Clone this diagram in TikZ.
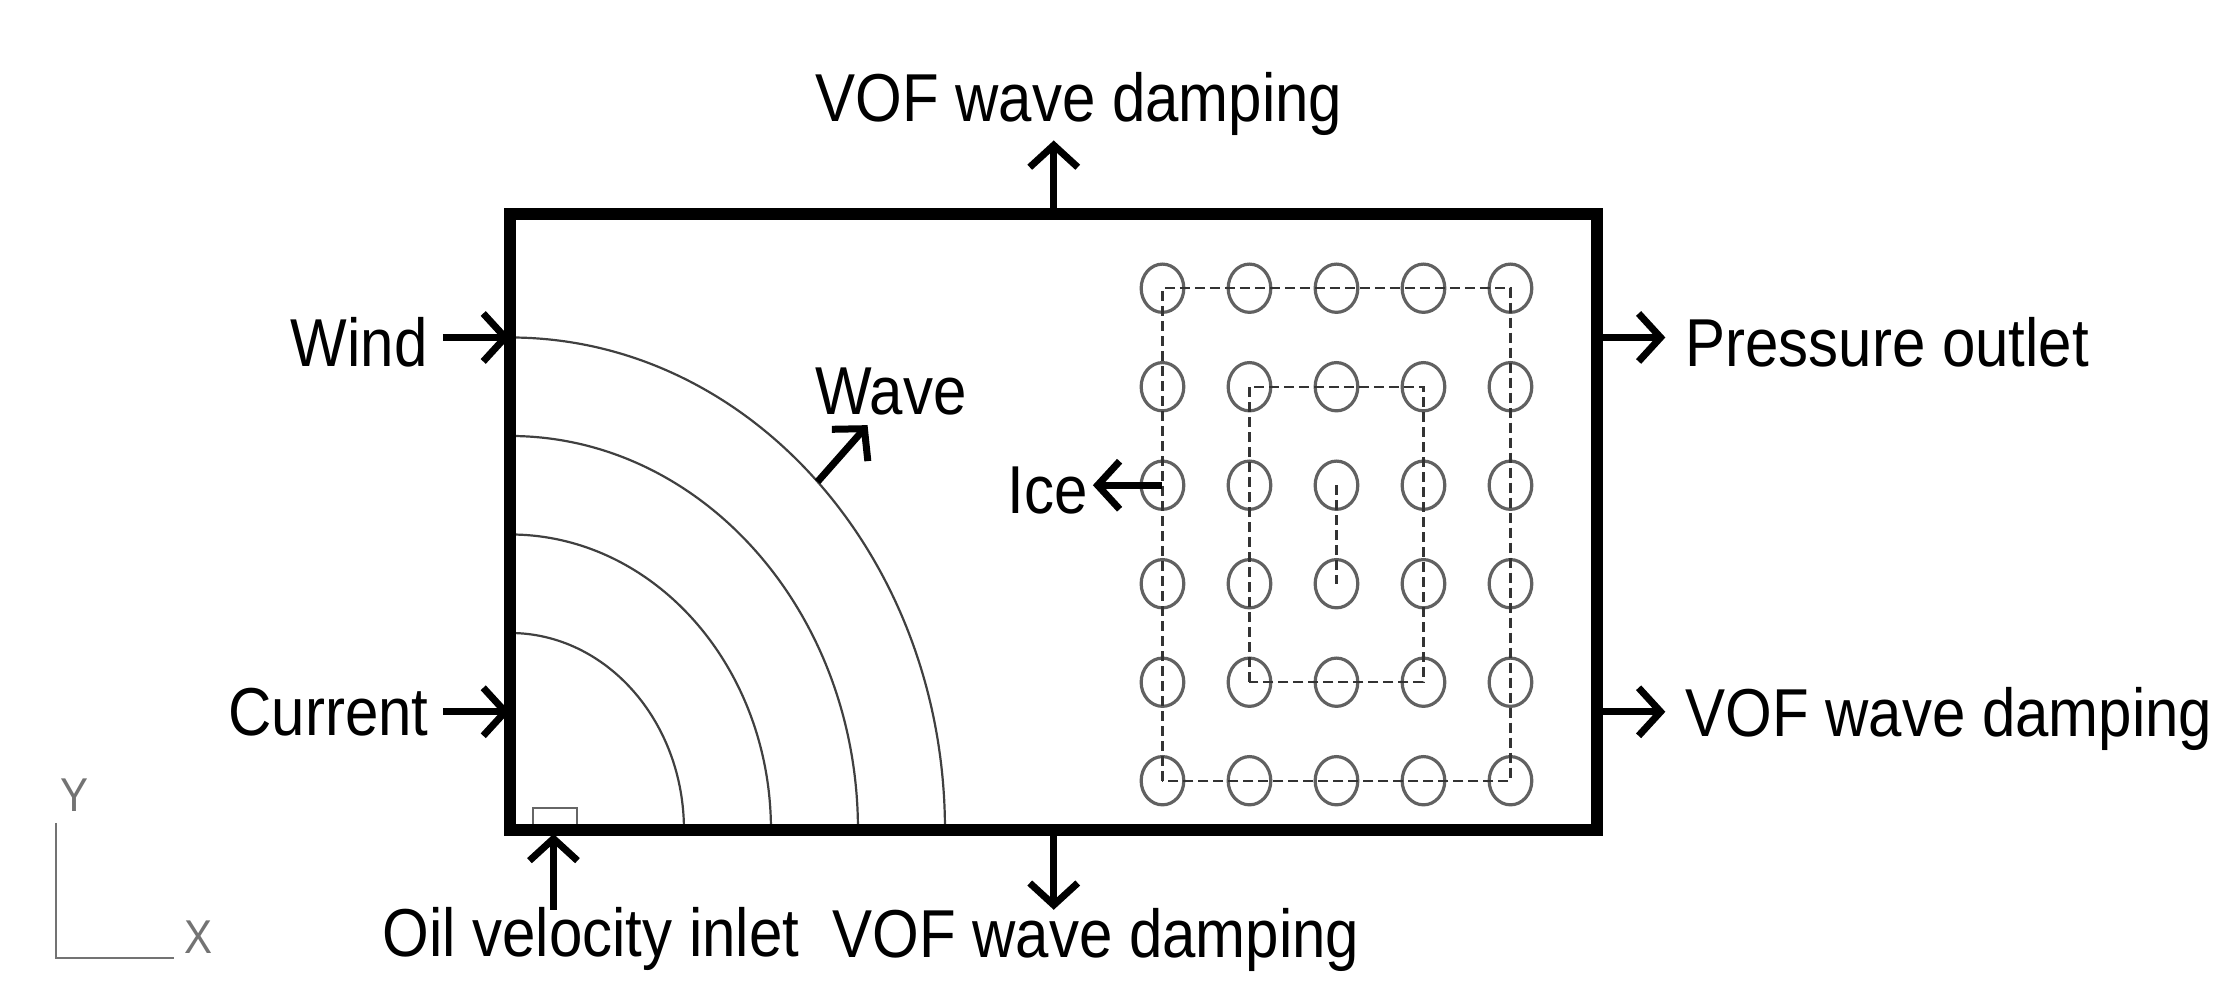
\documentclass[tikz,border=0pt]{standalone}
\usepackage{fontspec}
\usepackage{graphicx}
\setmainfont{Liberation Sans}
\usetikzlibrary{arrows.meta}
\newcommand{\vst}[1]{\scalebox{1}[1.13]{#1}}
\begin{document}
\begin{tikzpicture}[x=43.5pt,y=49.25pt,
  lab/.style={inner sep=0pt, font=\fontsize{30}{36}\selectfont},
  axlab/.style={inner sep=0pt, font=\fontsize{21}{25}\selectfont, text=black!55},
  bc/.style={line width=3.5pt, -{Straight Barb[length=11pt,width=24pt,sharp]}},
  frame/.style={line width=6pt},
  wavearc/.style={line width=1.1pt, draw=black!75},
  pile/.style={line width=1.6pt, draw=black!62},
  track/.style={line width=1.1pt, draw=black!80, dash pattern=on 5pt off 2.5pt},
  axisline/.style={line width=1pt, draw=black!55},
  inletbox/.style={line width=0.9pt, draw=black!60}
]
\useasboundingbox (-5.862,-1.7665) rectangle (19.874,8.4264);

% wave fronts
\foreach \k in {2,3,4,5}{
  \draw[wavearc] (0,\k) arc[start angle=90, end angle=0, radius=\k];
}
% oil inlet
\coordinate (inA) at (0.264,0);
\coordinate (inB) at (0.77,0.223);
\draw[inletbox] (inA) rectangle (inB);

% piles
\foreach \i in {0,...,4}{
  \foreach \j in {0,...,5}{
    \draw[pile] (7.5+\i,0.5+\j) circle[radius=0.245];
  }
}
% ice tracks
\coordinate (t1a) at (7.5,0.5);  \coordinate (t1b) at (11.5,5.5);
\coordinate (t2a) at (8.5,1.5);  \coordinate (t2b) at (10.5,4.5);
\coordinate (t3a) at (9.5,3.5);  \coordinate (t3b) at (9.5,2.5);
\draw[track] (t1a) rectangle (t1b);
\draw[track] (t2a) rectangle (t2b);
\draw[track] (t3a) -- (t3b);

% domain
\coordinate (BL) at (0,0);
\coordinate (TR) at (12.5,6.25);
\draw[frame] (BL) rectangle (TR);

% boundary arrows
\coordinate (topA) at (6.25,6.25);  \coordinate (topB) at (6.25,7.0);
\coordinate (botA) at (6.25,0);     \coordinate (botB) at (6.25,-0.81);
\coordinate (windA) at (-0.77,5);   \coordinate (windB) at (0,5);
\coordinate (curA) at (-0.77,1.2);  \coordinate (curB) at (0,1.2);
\coordinate (poA) at (12.5,5);      \coordinate (poB) at (13.28,5);
\coordinate (rvA) at (12.5,1.2);    \coordinate (rvB) at (13.28,1.2);
\coordinate (oilA) at (0.5,-0.81);  \coordinate (oilB) at (0.5,-0.04);
\coordinate (waveA) at (45:5);      \coordinate (waveB) at (4.11,4.11);
\coordinate (iceA) at (7.5,3.5);    \coordinate (iceB) at (6.70,3.5);
\draw[bc] (topA) -- (topB);
\draw[bc] (botA) -- (botB);
\draw[bc] (windA) -- (windB);
\draw[bc] (curA) -- (curB);
\draw[bc] (poA) -- (poB);
\draw[bc] (rvA) -- (rvB);
\draw[bc] (oilA) -- (oilB);
\draw[bc] (waveA) -- (waveB);
\draw[bc] (iceA) -- (iceB);

% labels
\node[lab, anchor=base west] (ltop) at (3.506,7.188) {\vst{VOF wave damping}};
\node[lab, anchor=base west] (lbot) at (3.701,-1.2995) {\vst{VOF wave damping}};
\node[lab, anchor=base west] (loil) at (-1.471,-1.289) {\vst{Oil velocity inlet}};
\node[lab, anchor=base east] (lwind) at (-0.943,4.701) {\vst{Wind}};
\node[lab, anchor=base east] (lcur) at (-0.931,0.964) {\vst{Current}};
\node[lab, anchor=base west] (lpo) at (13.506,4.701) {\vst{Pressure outlet}};
\node[lab, anchor=base west] (lrv) at (13.506,0.944) {\vst{VOF wave damping}};
\node[lab, anchor=base west] (lwave) at (3.506,4.223) {\vst{Wave}};
\node[lab, anchor=base east] (lice) at (6.644,3.218) {\vst{Ice}};

% axes indicator
\coordinate (axO) at (-5.218,-1.2995);
\coordinate (axY) at (-5.218,0.071);
\coordinate (axX) at (-3.862,-1.2995);
\draw[axisline] (axY) -- (axO) -- (axX);
\node[axlab, anchor=base] (ly) at (-5.0,0.183) {\vst{Y}};
\node[axlab, anchor=base] (lx) at (-3.58,-1.249) {\vst{X}};
\end{tikzpicture}
\end{document}
